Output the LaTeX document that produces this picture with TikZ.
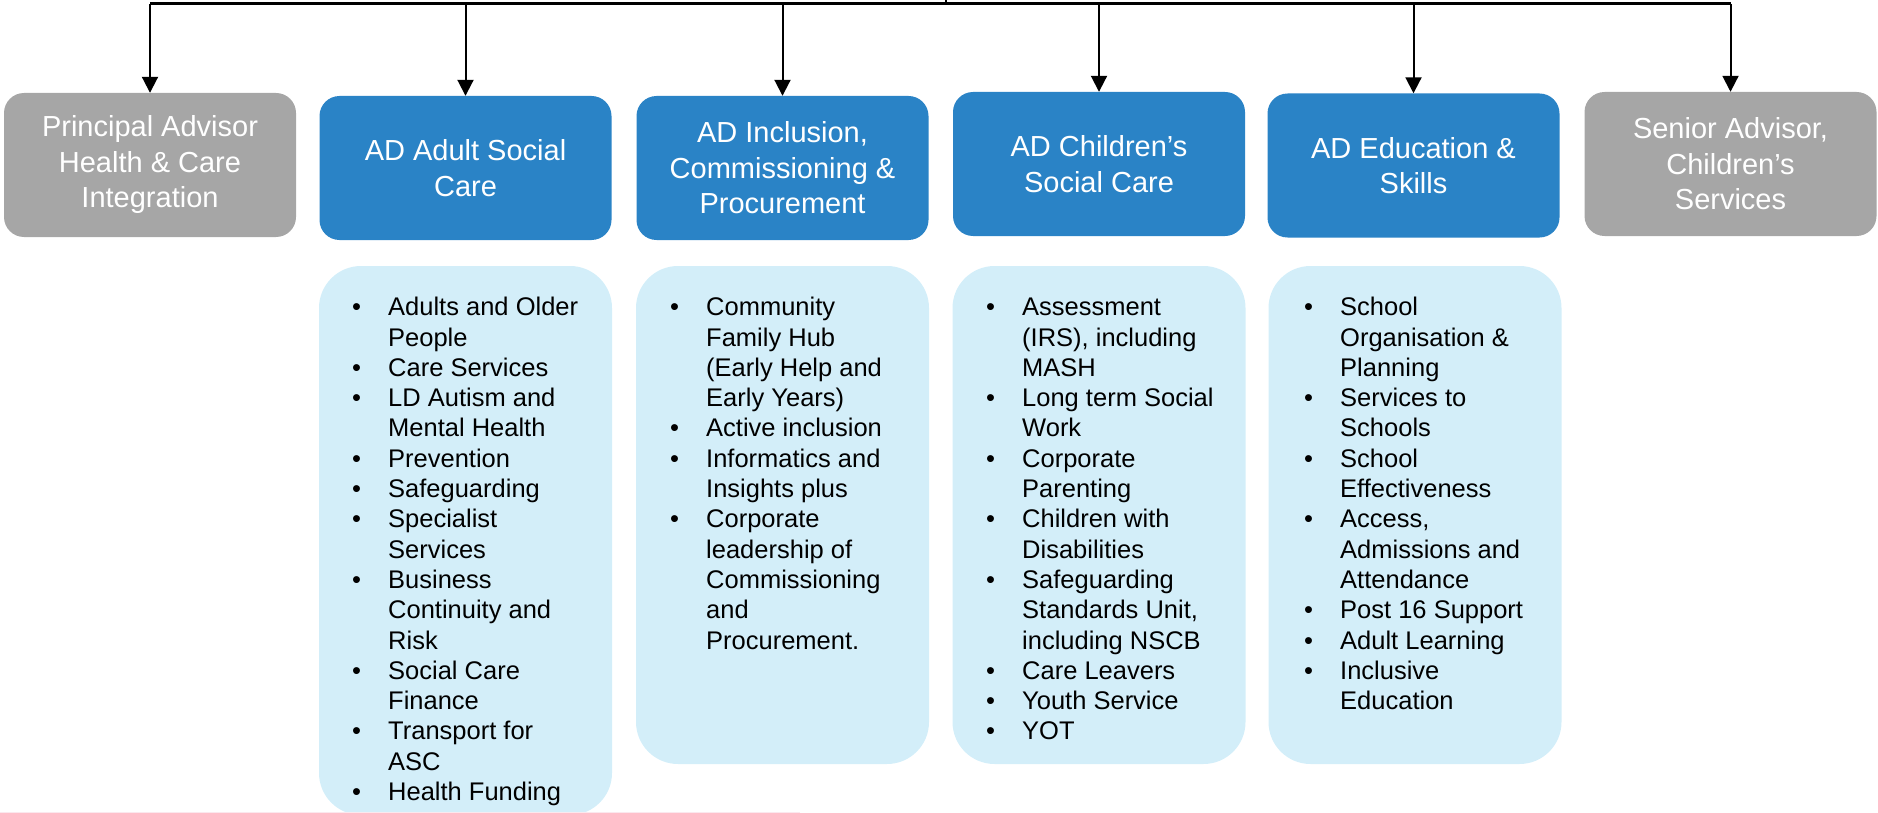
\documentclass[tikz,border=0pt]{standalone}
\usepackage{fontspec}
\setmainfont{Liberation Sans}
\usetikzlibrary{arrows.meta}
\definecolor{hdblue}{HTML}{2A83C6}
\definecolor{hdgray}{HTML}{A6A6A6}
\definecolor{lstblue}{HTML}{D3EEF9}
\definecolor{pinkline}{HTML}{FBE8EE}
\newcommand\lbi[1]{\strut\makebox[36pt][l]{\textbullet}#1}
\newcommand\lbc[1]{\strut\hspace*{36pt}#1}
\tikzset{
  hdbox/.style={rectangle, rounded corners=20pt, minimum width=292pt, minimum height=144pt,
    inner sep=0pt, text=white, align=center, font=\fontsize{29}{35.5}\selectfont},
  bluebox/.style={hdbox, fill=hdblue},
  graybox/.style={hdbox, fill=hdgray},
  lstbox/.style={rectangle, rounded corners=42pt, fill=lstblue, minimum width=293pt, inner sep=0pt},
  lsttext/.style={anchor=north west, inner sep=0pt, align=left, text=black,
    font=\fontsize{25.5}{30.3}\selectfont},
  arr/.style={line width=2pt, -{Triangle[width=16pt,length=16pt]}},
  barline/.style={line width=3pt}
}
\begin{document}
\begin{tikzpicture}[x=1pt,y=-1pt]
\useasboundingbox (0,0) rectangle (1878,813);
% header boxes
\node[graybox] (pa) at (150,165) {Principal Advisor\\Health \& Care\\Integration};
\node[bluebox] (asc) at (465.5,168) {AD Adult Social\\Care};
\node[bluebox] (inc) at (782.5,168) {AD Inclusion,\\Commissioning \&\\Procurement};
\node[bluebox] (csc) at (1099,164) {AD Children’s\\Social Care};
\node[bluebox] (edu) at (1413.5,165.5) {AD Education \&\\Skills};
\node[graybox] (sa) at (1730.5,164) {Senior Advisor,\\Children’s\\Services};
% connectors
\coordinate (trunk) at (946,0);
\coordinate (bar) at (946,4);
\draw[line width=2.5pt] (trunk) -- (bar);
\draw[barline] (bar -| pa.north) -- (bar -| sa.north);
\foreach \n in {pa,asc,inc,csc,edu,sa}{
  \draw[arr] (bar -| \n.north) -- (\n.north);
}
% list boxes
\node[lstbox, minimum height=549pt] (lasc) at (465.5,540.5) {};
\node[lstbox, minimum height=498pt] (linc) at (782.5,515) {};
\node[lstbox, minimum height=498pt] (lcsc) at (1099,515) {};
\node[lstbox, minimum height=498pt] (ledu) at (1415,515) {};
\fill[pinkline] (0,811.5) rectangle (800,813);
% list texts
\node[lsttext] (tasc) at (352,294.3) {%
\lbi{Adults and Older}\\ \lbc{People}\\
\lbi{Care Services}\\
\lbi{LD Autism and}\\ \lbc{Mental Health}\\
\lbi{Prevention}\\
\lbi{Safeguarding}\\
\lbi{Specialist}\\ \lbc{Services}\\
\lbi{Business}\\ \lbc{Continuity and}\\ \lbc{Risk}\\
\lbi{Social Care}\\ \lbc{Finance}\\
\lbi{Transport for}\\ \lbc{ASC}\\
\lbi{Health Funding}};
\node[lsttext] (tinc) at (670,294.3) {%
\lbi{Community}\\ \lbc{Family Hub}\\ \lbc{(Early Help and}\\ \lbc{Early Years)}\\
\lbi{Active inclusion}\\
\lbi{Informatics and}\\ \lbc{Insights plus}\\
\lbi{Corporate}\\ \lbc{leadership of}\\ \lbc{Commissioning}\\ \lbc{and}\\ \lbc{Procurement.}};
\node[lsttext] (tcsc) at (986,294.3) {%
\lbi{Assessment}\\ \lbc{(IRS), including}\\ \lbc{MASH}\\
\lbi{Long term Social}\\ \lbc{Work}\\
\lbi{Corporate}\\ \lbc{Parenting}\\
\lbi{Children with}\\ \lbc{Disabilities}\\
\lbi{Safeguarding}\\ \lbc{Standards Unit,}\\ \lbc{including NSCB}\\
\lbi{Care Leavers}\\
\lbi{Youth Service}\\
\lbi{YOT}};
\node[lsttext] (tedu) at (1304,294.3) {%
\lbi{School}\\ \lbc{Organisation \&}\\ \lbc{Planning}\\
\lbi{Services to}\\ \lbc{Schools}\\
\lbi{School}\\ \lbc{Effectiveness}\\
\lbi{Access,}\\ \lbc{Admissions and}\\ \lbc{Attendance}\\
\lbi{Post 16 Support}\\
\lbi{Adult Learning}\\
\lbi{Inclusive}\\ \lbc{Education}};
\end{tikzpicture}
\end{document}
